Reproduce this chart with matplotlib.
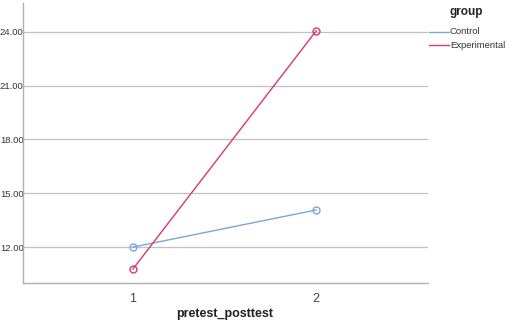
import matplotlib
matplotlib.use("Agg")
import matplotlib.pyplot as plt

# data
timepoints = [1, 2]
control = [12.00, 14.07]
experimental = [10.78, 24.05]
yticks = [12, 15, 18, 21, 24]

plt.rcParams['font.family'] = ['Liberation Sans', 'DejaVu Sans']

fig = plt.figure(figsize=(5.11, 3.21), dpi=100)
ax = fig.add_axes([23/511, 1 - 283/321, (428-23)/511, (283-3)/321])

ax.set_xlim(0.40, 2.61)
ax.set_ylim(10.0, 25.6)

for y in yticks:
    ax.axhline(y, color='#c0c0c0', lw=0.9, zorder=0)

ax.plot(timepoints, control, color='#7aa6dc', lw=1.0, marker='o', ms=5,
        mfc='none', mec='#7aa6dc', mew=1.0)
ax.plot(timepoints, experimental, color='#d9396b', lw=1.0, marker='o', ms=5,
        mfc='none', mec='#d9396b', mew=1.0)

ax.set_yticks(yticks)
ax.set_yticklabels(["%.2f" % v for v in yticks], fontsize=6.8, color='#333333')
ax.set_xticks(timepoints)
ax.set_xticklabels([str(t) for t in timepoints], fontsize=9, color='#444444')
ax.tick_params(axis='both', length=0)
ax.tick_params(axis='y', pad=-0.5)
ax.tick_params(axis='x', pad=7)

for s in ['top', 'right']:
    ax.spines[s].set_visible(False)
for s in ['left', 'bottom']:
    ax.spines[s].set_color('#b0b0b0')
    ax.spines[s].set_linewidth(1.0)

# x axis title sits at the very bottom edge
fig.text(225/511, 1/321, "pretest_posttest", fontsize=9, fontweight='bold',
         ha='center', va='bottom', color='#222222')

# legend
fig.text(450/511, 1 - 12/321, "group", fontsize=8.5, fontweight='bold',
         ha='left', va='center', color='#222222')
fig.text(450/511, 1 - 32/321, "Control", fontsize=6.8, ha='left', va='center', color='#333333')
fig.text(450/511, 1 - 45/321, "Experimental", fontsize=6.8, ha='left', va='center', color='#333333')
fig.add_artist(plt.Line2D([429/511, 449/511], [1 - 32/321, 1 - 32/321], color='#7aa6dc', lw=1.0))
fig.add_artist(plt.Line2D([429/511, 449/511], [1 - 45/321, 1 - 45/321], color='#d9396b', lw=1.0))

fig.savefig("out.png", dpi=100)
